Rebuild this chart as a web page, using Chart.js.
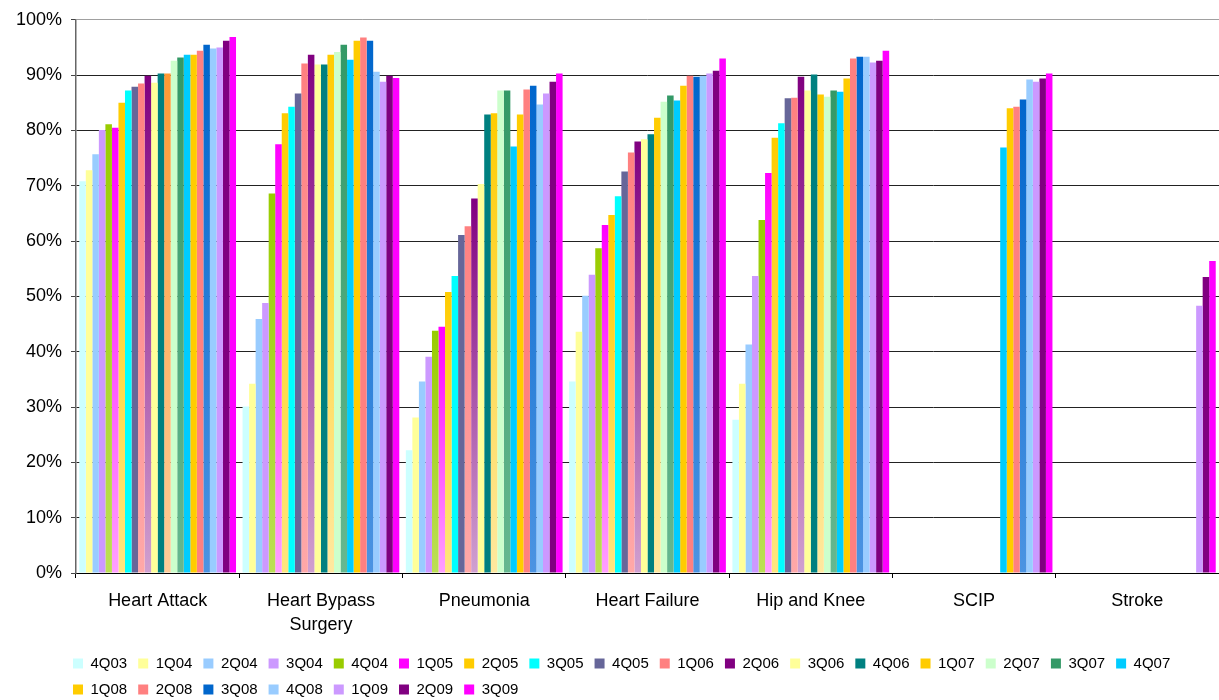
<!DOCTYPE html>
<html>
<head>
<meta charset="utf-8">
<script src="https://cdn.jsdelivr.net/npm/chart.js@4/dist/chart.umd.min.js"></script>
<style>
  body { margin: 0; background: #fff; }
  #wrap { width: 1219px; height: 700px; }
</style>
</head>
<body>
<div id="wrap"><canvas id="myChart"></canvas></div>
<script>
// categories and quarters
var categories = ['Heart Attack', ['Heart Bypass', 'Surgery'], 'Pneumonia', 'Heart Failure', 'Hip and Knee', 'SCIP', 'Stroke'];
var quarters = ['4Q03', '1Q04', '2Q04', '3Q04', '4Q04', '1Q05', '2Q05', '3Q05', '4Q05', '1Q06', '2Q06', '3Q06',
                '4Q06', '1Q07', '2Q07', '3Q07', '4Q07', '1Q08', '2Q08', '3Q08', '4Q08', '1Q09', '2Q09', '3Q09'];

// values per category, one per quarter (percent)
var heartAttack = [70.8, 72.8, 75.7, 80.1, 81.1, 80.5, 85.0, 87.2, 87.9, 88.5, 89.9, 88.6, 90.3, 90.3, 92.6, 93.2, 93.7, 93.7, 94.4, 95.5, 94.8, 95.0, 96.2, 96.9];
var heartBypass = [30.1, 34.2, 45.9, 48.8, 68.6, 77.5, 83.1, 84.3, 86.7, 92.1, 93.7, 91.9, 91.9, 93.7, 94.2, 95.5, 92.8, 96.2, 96.8, 96.2, 90.6, 88.8, 89.9, 89.5];
var pneumonia = [22.2, 28.1, 34.6, 39.1, 43.8, 44.5, 50.8, 53.7, 61.1, 62.7, 67.7, 70.3, 82.9, 83.1, 87.2, 87.2, 77.1, 82.9, 87.4, 88.1, 84.7, 86.7, 88.8, 90.3];
var heartFailure = [34.6, 43.6, 50.1, 53.9, 58.7, 62.9, 64.7, 68.1, 72.6, 76.0, 78.0, 78.4, 79.3, 82.3, 85.2, 86.3, 85.4, 88.1, 89.9, 89.7, 89.9, 90.3, 90.8, 93.0];
var hipKnee = [27.7, 34.2, 41.3, 53.7, 63.8, 72.3, 78.7, 81.3, 85.8, 85.9, 89.7, 87.2, 90.1, 86.5, 86.1, 87.2, 87.0, 89.4, 93.0, 93.3, 93.3, 92.3, 92.6, 94.4];
var scip = [null, null, null, null, null, null, null, null, null, null, null, null, null, null, null, null, 76.9, 84.0, 84.3, 85.6, 89.2, 88.8, 89.4, 90.3];
var stroke = [null, null, null, null, null, null, null, null, null, null, null, null, null, null, null, null, null, null, null, null, null, 48.3, 53.5, 56.4];

var byCategory = [heartAttack, heartBypass, pneumonia, heartFailure, hipKnee, scip, stroke];

// fill colours per quarter (top), and the lighter bottom colour for the shaded ones
var topColors = ['#CCFFFF', '#FFFF99', '#99CCFF', '#CC99FF', '#99CC00', '#FF00FF', '#FFCC00', '#00FFFF',
                 '#666699', '#FF8080', '#800080', '#FFFF99', '#008080', '#FFCC00', '#CCFFCC', '#339966',
                 '#00CCFF', '#FFCC00', '#FF8080', '#0066CC', '#99CCFF', '#CC99FF', '#800080', '#FF00FF'];
var bottomColors = [null, null, null, null, '#BCDF55', '#FFA0FF', '#FFE680', null,
                    null, '#FFA8A8', '#D0A0D0', null, null, '#FFE8A0', null, '#66B890',
                    null, null, null, '#4C94E2', null, null, null, null];

var fontFamily = 'Arial, "Liberation Sans", sans-serif';

function barFill(i) {
    return function (ctx) {
        var top = topColors[i];
        var bottom = bottomColors[i];
        // the 1Q07 heart attack bar is orange in the original
        if (i === 13 && ctx.dataIndex === 0) { top = '#FF9933'; bottom = '#FFCC99'; }
        if (!bottom || ctx.type !== 'data' || ctx.raw == null) return top;
        var chart = ctx.chart;
        if (!chart.chartArea) return top;
        var y = chart.scales.y;
        var g = chart.ctx.createLinearGradient(0, y.getPixelForValue(ctx.raw), 0, y.getPixelForValue(0));
        g.addColorStop(0, top);
        g.addColorStop(1, bottom);
        return g;
    };
}

var datasets = quarters.map(function (q, i) {
    return {
        label: q,
        data: byCategory.map(function (arr) { return arr[i]; }),
        backgroundColor: barFill(i),
        borderWidth: 0,
        barPercentage: 1.0,
        categoryPercentage: 0.96
    };
});

// y scale is kept narrow so the legend can start under the axis;
// widen its box back to the left edge so the % labels are not clipped
var yLabelRoom = {
    id: 'yLabelRoom',
    afterLayout: function (chart) {
        var y = chart.scales.y;
        y.left = 0;
        y.width = y.right;
    }
};

var ctx = document.getElementById('myChart').getContext('2d');
var myChart = new Chart(ctx, {
    type: 'bar',
    data: { labels: categories, datasets: datasets },
    plugins: [yLabelRoom],
    options: {
        responsive: true,
        maintainAspectRatio: false,
        animation: false,
        layout: { padding: { left: 62, top: 17, right: 0, bottom: 0 } },
        plugins: {
            tooltip: { enabled: false },
            legend: {
                position: 'bottom',
                align: 'start',
                maxHeight: 55,
                labels: {
                    boxWidth: 10,
                    boxHeight: 10,
                    padding: 11,
                    color: '#000',
                    font: { family: fontFamily, size: 15 },
                    generateLabels: function (chart) {
                        var items = Chart.defaults.plugins.legend.labels.generateLabels(chart);
                        items.forEach(function (it) {
                            it.fillStyle = topColors[it.datasetIndex];
                        });
                        return items;
                    }
                }
            }
        },
        scales: {
            x: {
                afterFit: function (s) { s.height = 72; },
                border: { color: '#000', width: 1 },
                grid: { offset: true, drawOnChartArea: false, drawTicks: true, tickLength: 5, tickColor: '#000' },
                ticks: { color: '#000', padding: 11, font: { family: fontFamily, size: 18, lineHeight: 1.33 } }
            },
            y: {
                min: 0,
                max: 100,
                afterFit: function (s) { s.width = 14; },
                border: { color: '#666', width: 1.5 },
                grid: {
                    color: function (c) { return c.tick && c.tick.value === 100 ? '#A0A0A0' : '#222'; },
                    tickColor: '#444',
                    tickLength: 5
                },
                ticks: {
                    stepSize: 10,
                    padding: 9,
                    color: '#000',
                    font: { family: fontFamily, size: 18 },
                    callback: function (v) { return v + '%'; }
                }
            }
        }
    }
});
</script>
</body>
</html>
